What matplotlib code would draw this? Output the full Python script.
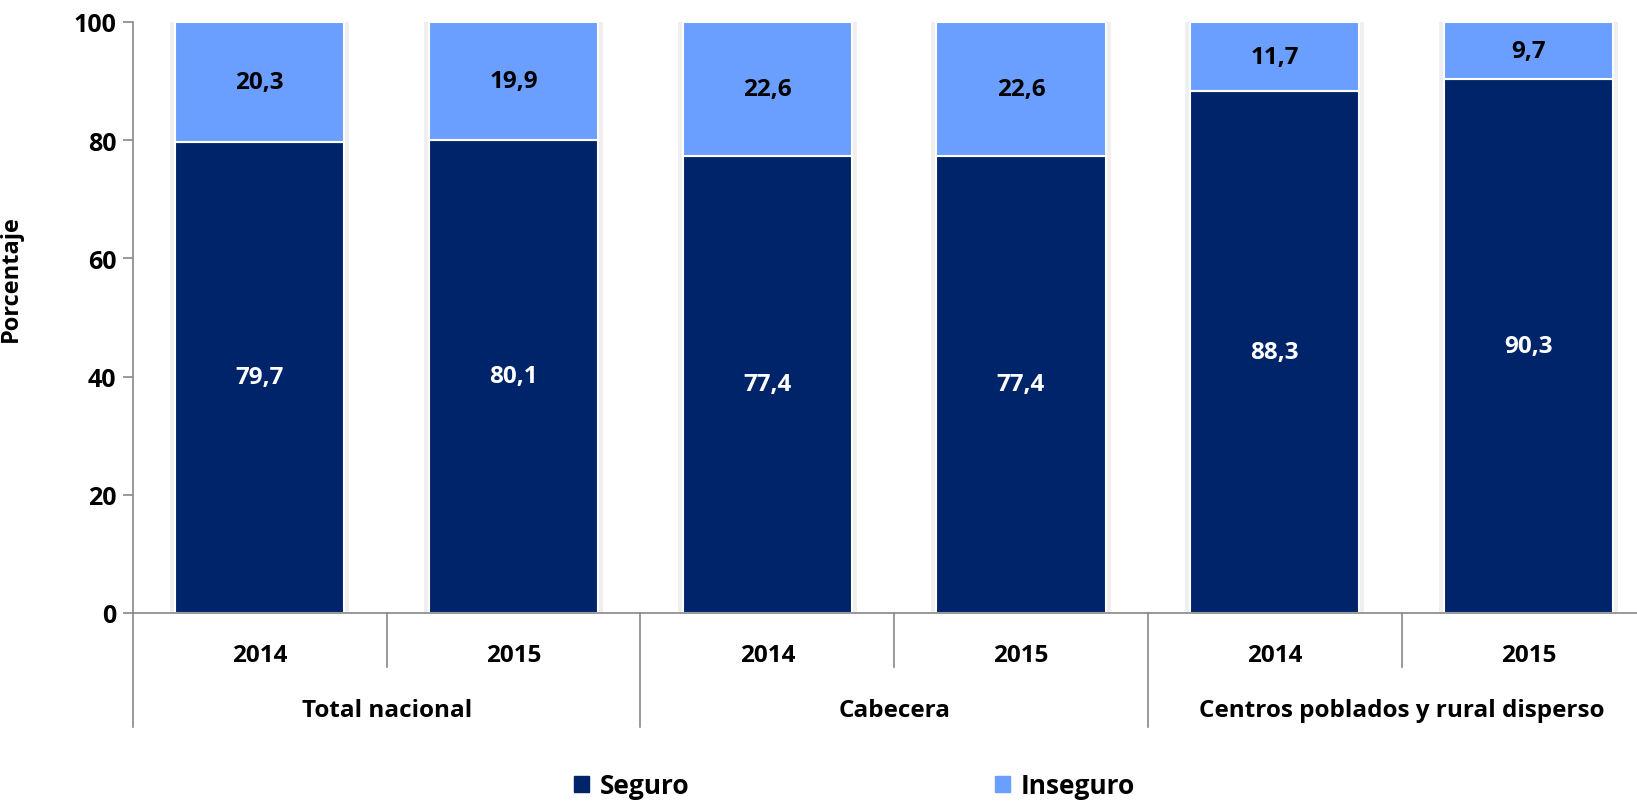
import matplotlib
matplotlib.use("Agg")
import matplotlib.pyplot as plt
from matplotlib.transforms import blended_transform_factory
from matplotlib.patches import Patch
import numpy as np

plt.rcParams['font.family'] = ['Open Sans', 'DejaVu Sans']
plt.rcParams['font.weight'] = 'bold'

# data
groups = ["Total nacional", "Cabecera", "Centros poblados y rural disperso"]
years = ["2014", "2015", "2014", "2015", "2014", "2015"]
seguro = [79.7, 80.1, 77.4, 77.4, 88.3, 90.3]
inseguro = [20.3, 19.9, 22.6, 22.6, 11.7, 9.7]

dark = "#002469"
light = "#6A9EFF"

fig = plt.figure(figsize=(16.37, 8.03), dpi=100)
ax = fig.add_axes([0.0812, 0.2354, 0.930, 0.7360])

x = np.arange(len(years))
w = 0.667

# faint shadow behind bars
ax.bar(x, 100, width=w + 0.04, color="#efefef", zorder=1)
ax.bar(x, seguro, width=w, color=dark, edgecolor="white", linewidth=1.5, zorder=2)
ax.bar(x, inseguro, width=w, bottom=seguro, color=light, edgecolor="white", linewidth=1.5, zorder=2)

for i in range(len(x)):
    ax.text(x[i], seguro[i] / 2, f"{seguro[i]:.1f}".replace(".", ","),
            ha="center", va="center", color="white", fontsize=17.5, fontweight="bold", zorder=3)
    ax.text(x[i], seguro[i] + inseguro[i] / 2, f"{inseguro[i]:.1f}".replace(".", ","),
            ha="center", va="center", color="black", fontsize=17.5, fontweight="bold", zorder=3)

ax.set_xlim(-0.5, 5.5)
ax.set_ylim(0, 100)
ax.set_yticks([0, 20, 40, 60, 80, 100])
ax.tick_params(axis="y", labelsize=18, length=7, color="#888888", width=1.2, pad=5)
ax.set_ylabel("Porcentaje", fontsize=17, fontweight="bold")
ax.yaxis.set_label_coords(-0.072, 0.567)
ax.set_xticks([])
for s in ["top", "right"]:
    ax.spines[s].set_visible(False)
ax.spines["left"].set_color("#888888")
ax.spines["bottom"].set_color("#888888")
ax.spines["left"].set_linewidth(1.2)
ax.spines["bottom"].set_linewidth(1.2)

# two-level category axis
tr = blended_transform_factory(ax.transData, ax.transAxes)
for i in range(len(years)):
    ax.text(x[i], -0.071, years[i], transform=tr, ha="center", va="center",
            fontsize=17.5, fontweight="bold")
for g in range(len(groups)):
    ax.text(2 * g + 0.5, -0.164, groups[g], transform=tr, ha="center", va="center",
            fontsize=17.5, fontweight="bold")
for b in [0.5, 2.5, 4.5]:
    ax.plot([b, b], [0, -0.0914], transform=tr, color="#888888", lw=1.2, clip_on=False)
for b in [-0.5, 1.5, 3.5]:
    ax.plot([b, b], [0, -0.193], transform=tr, color="#888888", lw=1.2, clip_on=False)

handles = [Patch(color=dark, label="Seguro"), Patch(color=light, label="Inseguro")]
fig.legend(handles=handles, loc="center", bbox_to_anchor=(0.522, 0.020), ncol=2,
           frameon=False, fontsize=19, handlelength=0.55, handleheight=0.55,
           handletextpad=0.4, columnspacing=11.6)

fig.savefig("out.png", dpi=100)
